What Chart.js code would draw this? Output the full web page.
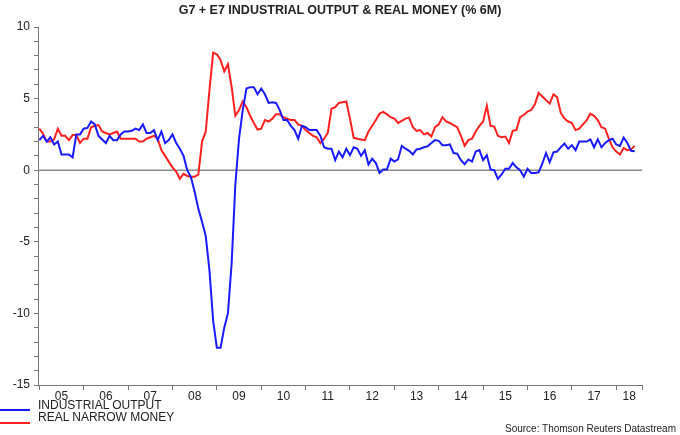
<!DOCTYPE html>
<html>
<head>
<meta charset="utf-8">
<script src="https://cdn.jsdelivr.net/npm/chart.js@4"></script>
<style>
  body { margin: 0; background: #fff; font-family: "Liberation Sans", Arial, sans-serif; }
  #wrap { position: relative; width: 680px; height: 435px; }
  #title { position: absolute; top: 3px; left: 0; width: 680px; text-align: center; font-weight: bold; font-size: 12.5px; color: #222; }
  .leg { position: absolute; left: 38px; font-size: 12px; color: #222; }
  .legline { position: absolute; left: 0; width: 30px; height: 2px; }
  #source { position: absolute; right: 4px; top: 423px; font-size: 10px; color: #222; }
</style>
</head>
<body>
<div id="wrap">
  <canvas id="chart" width="680" height="435"></canvas>
  <div id="title">G7 + E7 INDUSTRIAL OUTPUT &amp; REAL MONEY (% 6M)</div>
  <div class="legline" style="top:409px;background:#1a1aff"></div>
  <div class="leg" style="top:398px">INDUSTRIAL OUTPUT</div>
  <div class="legline" style="top:422px;background:#ff2020"></div>
  <div class="leg" style="top:410px">REAL NARROW MONEY</div>
  <div id="source">Source: Thomson Reuters Datastream</div>
</div>
<script>
"use strict";

// monthly, Jan 2005 - Jun 2018
var startYear = 2005;
var yearLabels = ["05", "06", "07", "08", "09", "10", "11", "12", "13", "14", "15", "16", "17", "18"];

var industrialOutput = [
    2.1, 2.4, 2.0, 2.3, 1.8, 2.0, 1.1, 1.1, 1.1, 0.9, 2.5, 2.5,
    2.9, 2.95, 3.4, 3.2, 2.4, 2.15, 1.9, 2.4, 2.1, 2.1, 2.5, 2.7,
    2.7, 2.75, 2.9, 2.8, 3.2, 2.6, 2.6, 2.8, 2.1, 2.7, 1.9, 2.1,
    2.5, 1.9, 1.5, 1.0, 0.0, -0.5, -1.5, -2.7, -3.6, -4.6, -7.0, -10.5,
    -12.4, -12.4, -11.0, -10.0, -6.5, -1.0, 2.2, 4.2, 5.7, 5.8, 5.8, 5.3,
    5.7, 5.3, 4.7, 4.75, 4.7, 4.2, 3.5, 3.5, 3.1, 2.8, 2.2, 3.1,
    3.0, 2.8, 2.8, 2.8, 2.4, 1.6, 1.5, 1.5, 0.7, 1.3, 0.9, 1.5,
    1.05, 1.6, 1.5, 1.0, 1.4, 0.4, 0.8, 0.5, -0.2, 0.05, 0.05, 0.8,
    0.6, 0.75, 1.7, 1.5, 1.35, 1.1, 1.45, 1.5, 1.6, 1.67, 1.9, 2.1,
    2.05, 1.75, 1.75, 1.8, 1.2, 1.15, 0.7, 0.42, 0.75, 0.6, 1.3, 1.4,
    0.7, 1.05, 0.05, 0.0, -0.6, -0.3, 0.1, 0.1, 0.5, 0.2, 0.0, -0.45,
    0.1, -0.2, -0.2, -0.15, 0.45, 1.2, 0.55, 1.25, 1.3, 1.6, 1.86, 1.5,
    1.75, 1.4, 2.0, 2.0, 2.0, 2.15, 1.6, 2.15, 1.6, 1.9, 2.1, 2.2,
    1.8, 1.7, 2.28, 1.9, 1.35, 1.33
];

var realNarrowMoney = [
    2.9, 2.55, 2.0, 2.0, 2.15, 2.9, 2.4, 2.4, 2.1, 2.45, 2.45, 1.9,
    2.2, 2.2, 3.0, 3.1, 3.15, 2.7, 2.6, 2.5, 2.6, 2.7, 2.2, 2.2,
    2.2, 2.2, 2.2, 2.0, 2.0, 2.2, 2.3, 2.4, 2.2, 1.4, 1.0, 0.6,
    0.2, -0.1, -0.6, -0.25, -0.4, -0.45, -0.45, -0.3, 2.0, 2.7, 5.6, 8.2,
    8.1, 7.7, 6.9, 7.4, 5.8, 3.8, 4.2, 4.8, 4.4, 3.8, 3.3, 2.84,
    2.9, 3.5, 3.4, 3.6, 3.9, 3.9, 3.7, 3.6, 3.5, 3.5, 3.2, 3.1,
    2.8, 2.6, 2.4, 2.3, 1.9, 2.2, 2.6, 4.3, 4.4, 4.7, 4.75, 4.8,
    3.6, 2.26, 2.2, 2.15, 2.1, 2.7, 3.1, 3.5, 3.95, 4.07, 3.9, 3.7,
    3.6, 3.3, 3.45, 3.6, 3.67, 3.0, 2.74, 2.8, 2.5, 2.6, 2.35, 3.0,
    3.2, 3.7, 3.4, 3.3, 3.15, 3.0, 2.4, 1.7, 2.1, 2.2, 2.7, 3.1,
    3.4, 4.5, 3.1, 3.05, 2.4, 2.3, 2.35, 1.9, 2.75, 2.8, 3.7, 3.85,
    4.1, 4.2, 4.6, 5.4, 5.15, 4.9, 4.65, 5.3, 5.1, 4.0, 3.6, 3.4,
    3.3, 2.8, 2.9, 3.2, 3.5, 3.95, 3.8, 3.5, 3.0, 2.9, 2.2, 1.6,
    1.3, 1.1, 1.55, 1.4, 1.45, 1.7
];

var xMin = 2004.97;
var xMax = 2018.58;

function toPoints(values)
{
    var pts = [];
    for (var i = 0; i < values.length; i++)
    {
        pts.push({ x: startYear + i / 12, y: values[i] });
    }
    return pts;
}

var extras = {
    id: "extras",
    beforeDatasetsDraw: function (chart)
    {
        var ctx = chart.ctx, a = chart.chartArea, y0 = chart.scales.y.getPixelForValue(0);
        ctx.save();
        ctx.strokeStyle = "#8c8c8c";
        ctx.lineWidth = 1.5;
        ctx.beginPath();
        ctx.moveTo(a.left, y0);
        ctx.lineTo(a.right, y0);
        ctx.stroke();
        ctx.restore();
    },
    afterDraw: function (chart)
    {
        var ctx = chart.ctx, xs = chart.scales.x;
        ctx.save();
        ctx.fillStyle = "#222";
        ctx.font = "12px 'Liberation Sans', Arial, sans-serif";
        ctx.textAlign = "center";
        ctx.textBaseline = "top";
        for (var i = 0; i < yearLabels.length; i++)
        {
            var a = startYear + i, b = Math.min(a + 1, xMax);
            var px = (xs.getPixelForValue(a) + xs.getPixelForValue(b)) / 2;
            ctx.fillText(yearLabels[i], px, chart.chartArea.bottom + 6);
        }
        ctx.restore();
    }
};

new Chart(document.getElementById("chart"), {
    type: "line",
    data: {
        datasets: [
            {
                data: toPoints(industrialOutput),
                borderColor: "#1a1aff",
                borderWidth: 2,
                pointRadius: 0,
                tension: 0
            },
            {
                data: toPoints(realNarrowMoney),
                borderColor: "#ff2020",
                borderWidth: 2,
                pointRadius: 0,
                tension: 0
            }
        ]
    },
    options: {
        responsive: false,
        animation: false,
        layout: { padding: { top: 27, right: 38, left: 0, bottom: 0 } },
        plugins: { legend: { display: false }, tooltip: { enabled: false } },
        scales: {
            x: {
                type: "linear",
                min: xMin,
                max: xMax,
                afterBuildTicks: function (scale)
                {
                    var t = [];
                    for (var i = 0; i < yearLabels.length; i++) t.push({ value: startYear + i });
                    t.push({ value: xMax });
                    scale.ticks = t;
                },
                afterFit: function (scale) { scale.height = 50; },
                ticks: { display: false },
                grid: { drawOnChartArea: false, tickLength: 5, color: "#777" },
                border: { color: "#777", width: 1 }
            },
            y: {
                min: -15,
                max: 10,
                afterBuildTicks: function (scale)
                {
                    var t = [];
                    for (var v = -15; v <= 10; v++) t.push({ value: v });
                    scale.ticks = t;
                },
                afterFit: function (scale) { scale.width = 38; },
                ticks: {
                    color: "#222",
                    autoSkip: false,
                    font: { size: 12, family: "'Liberation Sans', Arial, sans-serif" },
                    padding: 4,
                    callback: function (v) { return v % 5 === 0 ? String(v) : ""; }
                },
                grid: { drawOnChartArea: false, tickLength: 4, color: "#777" },
                border: { color: "#777", width: 1 }
            }
        }
    },
    plugins: [extras]
});
</script>
</body>
</html>
